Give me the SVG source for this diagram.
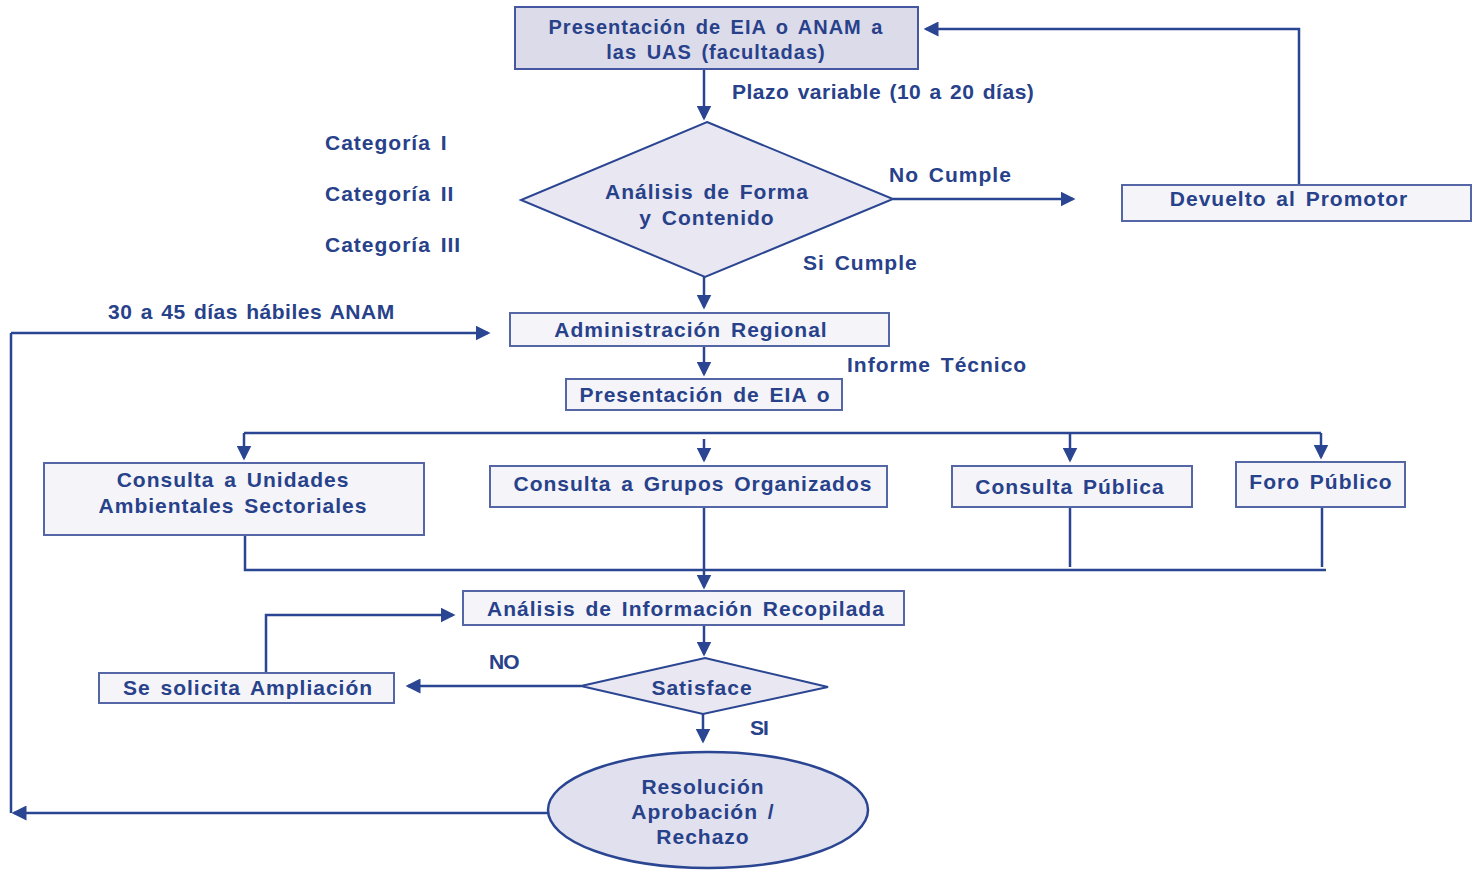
<svg xmlns="http://www.w3.org/2000/svg" width="1472" height="871" viewBox="0 0 1472 871">
<style>
text{font-family:"Liberation Sans",Arial,sans-serif;font-weight:bold;font-size:21px;fill:#27418a;letter-spacing:1px;word-spacing:3px}
.c{text-anchor:middle}
.t20{font-size:20px}
.num{letter-spacing:0.5px;word-spacing:2px}
.box{fill:#f4f4f9;stroke:#5566a6;stroke-width:2}
.top{fill:#dcdbea;stroke:#4557a0;stroke-width:2}
.dia{fill:#e9e7f1;stroke:#2a4591;stroke-width:2}
.ell{fill:#e1e0ee;stroke:#2a4591;stroke-width:2.5}
.ln{fill:none;stroke:#2a4591;stroke-width:2.5}
</style>
<defs>
<marker id="ah" markerWidth="6" markerHeight="6" refX="5" refY="3" orient="auto" markerUnits="strokeWidth">
<path d="M0,0 L6,3 L0,6 z" fill="#2a4591"/>
</marker>
</defs>
<rect width="1472" height="871" fill="#ffffff"/>
<g id="connectors">
<path class="ln" d="M704,69 V118" marker-end="url(#ah)"/>
<path class="ln" d="M893,199 H1073" marker-end="url(#ah)"/>
<path class="ln" d="M1299,185 V29 H926" marker-end="url(#ah)"/>
<path class="ln" d="M704,277 V307" marker-end="url(#ah)"/>
<path class="ln" d="M11,333 H488" marker-end="url(#ah)"/>
<path class="ln" d="M11,813 V333"/>
<path class="ln" d="M548,813 H14" marker-end="url(#ah)"/>
<path class="ln" d="M704,346 V374" marker-end="url(#ah)"/>
<path class="ln" d="M244,433 H1321"/>
<path class="ln" d="M244,433 V458" marker-end="url(#ah)"/>
<path class="ln" d="M704,439 V460" marker-end="url(#ah)"/>
<path class="ln" d="M1070,433 V460" marker-end="url(#ah)"/>
<path class="ln" d="M1321,433 V457" marker-end="url(#ah)"/>
<path class="ln" d="M245,535 V570 H1326"/>
<path class="ln" d="M1070,507 V567"/>
<path class="ln" d="M1322,507 V567"/>
<path class="ln" d="M704,507 V587" marker-end="url(#ah)"/>
<path class="ln" d="M704,625 V654" marker-end="url(#ah)"/>
<path class="ln" d="M581,686 H408" marker-end="url(#ah)"/>
<path class="ln" d="M266,673 V615 H453" marker-end="url(#ah)"/>
<path class="ln" d="M703,714 V741" marker-end="url(#ah)"/>
</g>
<g id="n-presentacion">
<rect class="top" x="515" y="7" width="403" height="62"/>
<text class="c t20" x="716" y="34">Presentación de EIA o ANAM a</text>
<text class="c t20" x="716" y="59">las UAS (facultadas)</text>
</g>
<text class="num" x="732" y="99">Plazo variable (10 a 20 días)</text>
<g id="n-analisis-forma">
<polygon class="dia" points="707,122 893,199 705,277 521,200"/>
<text class="c" x="707" y="199">Análisis de Forma</text>
<text class="c" x="707" y="225">y Contenido</text>
</g>
<text x="325" y="150">Categoría I</text>
<text x="325" y="201">Categoría II</text>
<text x="325" y="252">Categoría III</text>
<text x="889" y="182">No Cumple</text>
<text x="803" y="270">Si Cumple</text>
<g id="n-devuelto">
<rect class="box" x="1122" y="185" width="349" height="36"/>
<text class="c" x="1289" y="206">Devuelto al Promotor</text>
</g>
<text class="num" x="108" y="319">30 a 45 días hábiles ANAM</text>
<g id="n-admin">
<rect class="box" x="510" y="313" width="379" height="33"/>
<text class="c" x="691" y="337">Administración Regional</text>
</g>
<text x="847" y="372">Informe Técnico</text>
<g id="n-presentacion2">
<rect class="box" x="566" y="379" width="276" height="31"/>
<text class="c" x="705" y="402">Presentación de EIA o</text>
</g>
<g id="n-consulta-uas">
<rect class="box" x="44" y="463" width="380" height="72"/>
<text class="c" x="233" y="487">Consulta a Unidades</text>
<text class="c" x="233" y="513">Ambientales Sectoriales</text>
</g>
<g id="n-consulta-grupos">
<rect class="box" x="490" y="466" width="397" height="41"/>
<text class="c" x="693" y="491">Consulta a Grupos Organizados</text>
</g>
<g id="n-consulta-publica">
<rect class="box" x="952" y="466" width="240" height="41"/>
<text class="c" x="1070" y="494">Consulta Pública</text>
</g>
<g id="n-foro">
<rect class="box" x="1236" y="462" width="169" height="45"/>
<text class="c" x="1321" y="489">Foro Público</text>
</g>
<g id="n-analisis-info">
<rect class="box" x="463" y="591" width="441" height="34"/>
<text class="c" x="686" y="616">Análisis de Información Recopilada</text>
</g>
<g id="n-satisface">
<polygon class="dia" points="705,658 828,687 703,714 581,686"/>
<text class="c" x="702" y="695">Satisface</text>
</g>
<text x="489" y="669" style="letter-spacing:-1px">NO</text>
<text x="750" y="735" style="letter-spacing:-1px">SI</text>
<g id="n-ampliacion">
<rect class="box" x="99" y="673" width="295" height="30"/>
<text class="c" x="248" y="695">Se solicita Ampliación</text>
</g>
<g id="n-resolucion">
<ellipse class="ell" cx="708" cy="810" rx="160" ry="58"/>
<text class="c" x="703" y="794">Resolución</text>
<text class="c" x="703" y="819">Aprobación /</text>
<text class="c" x="703" y="844">Rechazo</text>
</g>
</svg>
